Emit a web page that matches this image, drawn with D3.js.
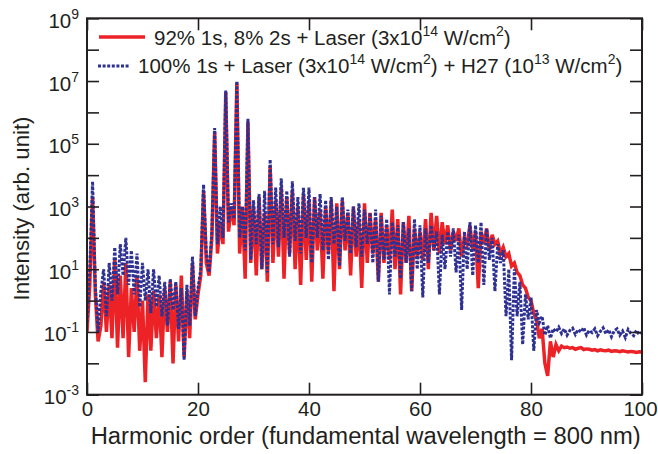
<!DOCTYPE html>
<html>
<head>
<meta charset="utf-8">
<script src="https://cdn.jsdelivr.net/npm/d3@7"></script>
<style>
  body { margin: 0; background: #fff; }
  text { font-family: "Liberation Sans", Arial, Helvetica, sans-serif; fill: #231f20; }
</style>
</head>
<body>
<script>
// harmonic order grid step (0..100)
const orderStep = 0.5;

// log10 of intensity at every half harmonic
const redLog = [
  -1.0, 0.5, 3.3, 0.2, -1.3, -0.8, 0.6, -1.0, 0.5, -1.2,
  1.3, -1.5, 0.8, -1.2, 1.2, -1.8, 0.4, -1.0, 0.8, -1.6,
  0.0, -2.6, 0.2, -1.6, 0.3, -1.2, 0.2, -1.8, 0.4, -1.0,
  0.6, -2.0, 0.5, -1.3, 0.8, -1.8, 0.3, -1.2, 1.2, -0.6,
  0.2, 0.8, 3.5, 1.2, 0.8, 2.0, 5.4, 1.5, 2.5, 1.8,
  6.65, 2.2, 3.0, 2.4, 6.95, 1.5, 3.0, 0.7, 5.7, 1.2,
  3.0, 0.8, 3.3, 1.0, 2.8, 0.6, 4.3, 1.2, 3.2, 1.4,
  3.6, 0.7, 3.3, 1.5, 3.5, 1.0, 3.0, 0.5, 3.4, 1.3,
  3.2, 0.6, 3.3, 1.6, 2.9, 0.7, 3.0, 1.5, 3.2, 0.3,
  3.1, 1.0, 3.2, 1.6, 2.8, 0.8, 3.0, 1.4, 2.6, 0.4,
  3.1, 1.2, 2.8, 1.5, 2.6, 0.6, 2.8, 1.2, 2.4, 1.3,
  2.9, 1.0, 2.6, 0.2, 2.5, 1.2, 2.7, 0.3, 2.3, 1.4,
  2.2, 1.3, 2.6, 1.0, 2.8, 1.6, 2.7, 1.5, 2.5, 1.8,
  2.4, 1.6, 2.2, 1.9, 2.3, 1.4, 2.0, 1.8, 2.4, 1.6,
  2.2, 0.4, 2.2, 1.8, 2.3, 1.6, 2.1, 1.8, 1.9, 1.5,
  1.7, 1.4, 1.5, 1.1, 1.2, 0.9, 0.8, 0.5, 0.4, 0.1,
  0.0, -0.4, -0.6, -1.2, -0.9, -2.0, -2.4, -1.3, -1.8, -1.4,
  -1.6, -1.45, -1.5, -1.48, -1.52, -1.5, -1.55, -1.52, -1.5, -1.56,
  -1.54, -1.55, -1.58, -1.56, -1.6, -1.57, -1.59, -1.6, -1.58, -1.62,
  -1.6, -1.61, -1.63, -1.6, -1.62, -1.64, -1.62, -1.63, -1.65, -1.63,
  -1.64
];

const blueLog = [
  -0.7, 1.0, 3.8, 0.5, -1.0, 0.3, 1.0, -0.5, 1.2, 0.0,
  1.7, 0.2, 1.8, 0.8, 2.0, 0.5, 1.6, 0.2, 1.5, -0.2,
  1.2, 0.0, 1.0, -0.4, 1.0, -0.2, 0.8, -0.5, 0.6, -0.8,
  0.7, -0.3, 0.6, -0.9, 0.4, -1.9, 0.5, -0.8, 1.4, -0.5,
  0.4, 1.0, 3.7, 1.5, 0.9, 2.2, 5.5, 1.8, 3.0, 2.0,
  6.7, 2.5, 3.1, 2.6, 7.0, 2.0, 3.0, 1.6, 5.8, 1.3,
  3.2, 1.8, 3.4, 1.0, 3.5, 0.9, 4.5, 1.8, 3.6, 1.7,
  3.9, 2.0, 3.5, 1.4, 3.8, 1.9, 3.3, 1.5, 3.6, 2.0,
  3.6, 1.2, 3.3, 2.0, 3.4, 1.6, 3.2, 1.3, 3.3, 1.8,
  3.0, 1.1, 3.3, 1.9, 2.9, 1.5, 3.0, 1.7, 3.1, 1.4,
  2.9, 1.8, 2.8, 1.2, 2.9, 0.6, 2.7, 1.3, 2.6, 0.2,
  2.5, 1.4, 2.4, 0.7, 2.5, 1.2, 2.3, 0.3, 2.6, 1.0,
  2.4, 0.1, 2.3, 1.2, 2.4, 1.6, 2.2, 0.2, 2.1, 1.0,
  2.2, 1.4, 2.3, 0.9, 2.1, -0.3, 2.2, 1.0, 2.5, 0.8,
  2.4, 1.2, 2.5, 0.5, 2.3, 1.3, 2.0, 0.3, 1.8, 1.2,
  1.6, -0.5, 1.0, -1.9, 1.0, -0.5, 0.6, -1.4, 0.2, -0.6,
  0.1, -1.6, -0.3, -0.7, -0.5, -1.1, -0.8, -1.2, -0.9, -1.0,
  -0.85, -1.05, -0.9, -1.1, -0.95, -0.88, -1.08, -0.92, -1.0, -0.86,
  -1.1, -0.95, -1.02, -0.9, -1.12, -0.98, -0.87, -1.06, -0.93, -1.15,
  -0.96, -0.9, -1.1, -0.97, -1.18, -0.92, -1.05, -1.12, -0.95, -1.08,
  -1.02
];

const xTicks = [0, 20, 40, 60, 80, 100];
const yDecades = d3.range(-3, 10);          // every decade gets a tick
const yLabelExps = [-3, -1, 1, 3, 5, 7, 9]; // only odd ones are labelled

const legendItems = [
  { name: "red", pre: "92% 1s, 8% 2s + Laser (3x10", sup1: "14", mid: " W/cm", sup2: "2", post: ")" },
  { name: "blue", pre: "100% 1s + Laser (3x10", sup1: "14", mid: " W/cm", sup2: "2", post: ") + H27 (10", sup3: "13", end: " W/cm", sup4: "2", tail: ")" }
];

const width = 658, height = 454;
const plotLeft = 87, plotRight = 642, plotTop = 18.3, plotBottom = 394.7;
const redColor = "#ec2227", blueColor = "#2e3192", inkColor = "#231f20";

const svg = d3.select("body").append("svg")
  .attr("width", width)
  .attr("height", height);

const x = d3.scaleLinear().domain([0, 100]).range([plotLeft, plotRight]);
const y = d3.scaleLog().domain([1e-3, 1e9]).range([plotBottom, plotTop]);

const toPoints = (arr) => arr.map((v, i) => [i * orderStep, Math.pow(10, v)]);
const line = d3.line().x(d => x(d[0])).y(d => y(d[1]));

svg.append("defs").append("clipPath").attr("id", "plotClip")
  .append("rect").attr("x", plotLeft).attr("y", plotTop)
  .attr("width", plotRight - plotLeft).attr("height", plotBottom - plotTop);

const g = svg.append("g").attr("clip-path", "url(#plotClip)");

g.append("path")
  .datum(toPoints(redLog))
  .attr("d", line)
  .attr("fill", "none")
  .attr("stroke", redColor)
  .attr("stroke-width", 3.5)
  .attr("stroke-linejoin", "miter");

g.append("path")
  .datum(toPoints(blueLog))
  .attr("d", line)
  .attr("fill", "none")
  .attr("stroke", blueColor)
  .attr("stroke-width", 3)
  .attr("stroke-dasharray", "3,1.6");

// axes: ticks point inward on all four sides
const tickLen = 12;
const styleAxis = (sel) => {
  sel.select(".domain").remove();
  sel.selectAll(".tick line").attr("stroke", inkColor).attr("stroke-width", 1.6);
};

svg.append("g")
  .attr("transform", `translate(0,${plotBottom})`)
  .call(d3.axisBottom(x).tickValues(xTicks).tickSize(-tickLen).tickPadding(7).tickFormat(d3.format("d")))
  .call(styleAxis)
  .call(s => s.selectAll("text")
    .attr("font-size", 20.5)
    .attr("fill", inkColor)
    .attr("dx", d => d === 100 ? -2 : 0)
    .style("font-family", "'Liberation Sans', Arial, sans-serif"));

svg.append("g")
  .attr("transform", `translate(0,${plotTop})`)
  .call(d3.axisTop(x).tickValues(xTicks).tickSize(-tickLen).tickFormat(""))
  .call(styleAxis);

svg.append("g")
  .attr("transform", `translate(${plotLeft},0)`)
  .call(d3.axisLeft(y).tickValues(yDecades.map(e => Math.pow(10, e))).tickSize(-tickLen).tickFormat(""))
  .call(styleAxis);

svg.append("g")
  .attr("transform", `translate(${plotRight},0)`)
  .call(d3.axisRight(y).tickValues(yDecades.map(e => Math.pow(10, e))).tickSize(-tickLen).tickFormat(""))
  .call(styleAxis);

// frame
svg.append("rect")
  .attr("x", plotLeft).attr("y", plotTop)
  .attr("width", plotRight - plotLeft).attr("height", plotBottom - plotTop)
  .attr("fill", "none")
  .attr("stroke", inkColor)
  .attr("stroke-width", 2);

// y tick labels 10^n
const yLab = svg.append("g").selectAll("text")
  .data(yLabelExps)
  .join("text")
  .attr("x", plotLeft - 8)
  .attr("y", d => y(Math.pow(10, d)) + 9.5)
  .attr("text-anchor", "end")
  .attr("font-size", 20.5);
yLab.append("tspan").text("10");
yLab.append("tspan")
  .attr("font-size", 14)
  .attr("dy", -9)
  .text(d => d);

// axis titles
svg.append("text")
  .attr("x", 365.7)
  .attr("y", 444)
  .attr("text-anchor", "middle")
  .attr("font-size", 23)
  .attr("textLength", 550)
  .attr("lengthAdjust", "spacingAndGlyphs")
  .text("Harmonic order (fundamental wavelength = 800 nm)");

svg.append("text")
  .attr("transform", "translate(28.5,208.5) rotate(-90)")
  .attr("text-anchor", "middle")
  .attr("font-size", 22.5)
  .attr("textLength", 184)
  .attr("lengthAdjust", "spacingAndGlyphs")
  .text("Intensity (arb. unit)");

// legend
const leg = svg.append("g");
leg.append("line")
  .attr("x1", 99).attr("x2", 145).attr("y1", 37).attr("y2", 37)
  .attr("stroke", redColor).attr("stroke-width", 3.5);
leg.append("line")
  .attr("x1", 98).attr("x2", 129).attr("y1", 66).attr("y2", 66)
  .attr("stroke", blueColor).attr("stroke-width", 3)
  .attr("stroke-dasharray", "3,1.6");

const supText = (t, parts) => {
  parts.forEach(p => {
    const ts = t.append("tspan").text(p[0]);
    if (p[1] === "sup") ts.attr("font-size", 14).attr("dy", -9);
    if (p[1] === "down") ts.attr("dy", 9);
  });
};

const r = legendItems[0], b = legendItems[1];
const t1 = leg.append("text").attr("x", 154).attr("y", 45).attr("font-size", 20.5);
supText(t1, [[r.pre], [r.sup1, "sup"], [r.mid, "down"], [r.sup2, "sup"], [r.post, "down"]]);
const t2 = leg.append("text").attr("x", 138).attr("y", 72.5).attr("font-size", 20.5);
supText(t2, [[b.pre], [b.sup1, "sup"], [b.mid, "down"], [b.sup2, "sup"], [b.post, "down"],
  [b.sup3, "sup"], [b.end, "down"], [b.sup4, "sup"], [b.tail, "down"]]);
</script>
</body>
</html>
